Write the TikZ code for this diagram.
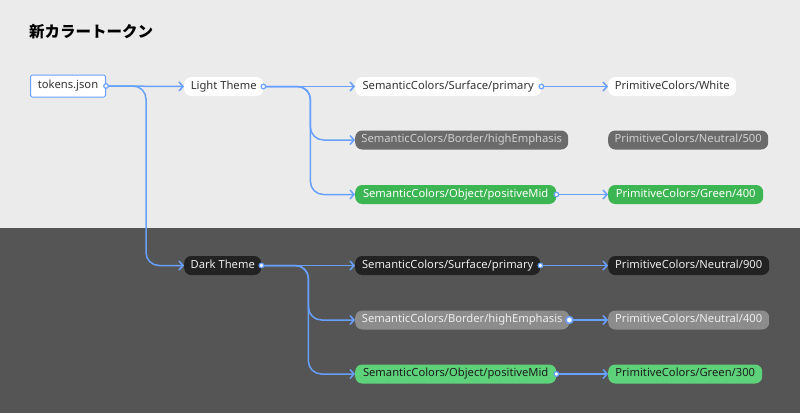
\documentclass[tikz,border=0pt]{standalone}
\usepackage{fontspec}
\setmainfont{Noto Sans}
\newfontfamily\cjk{Noto Sans CJK JP}
\usetikzlibrary{arrows.meta}
\definecolor{lightbg}{HTML}{EBEBEB}
\definecolor{darkbg}{HTML}{555555}
\definecolor{linkc}{HTML}{68A0FF}
\definecolor{txt}{HTML}{333333}
\definecolor{grayL}{HTML}{6B6B6B}
\definecolor{grayLt}{HTML}{CFCFCF}
\definecolor{grayD}{HTML}{8C8C8C}
\definecolor{grayDt}{HTML}{ECECEC}
\definecolor{blackD}{HTML}{222222}
\definecolor{greenL}{HTML}{3CB553}
\definecolor{greenD}{HTML}{5ED27A}
\definecolor{greenDt}{HTML}{1E1E1E}
\tikzset{
  pill/.style={rounded corners=7pt, minimum height=19pt, inner xsep=0pt, inner ysep=0pt,
    anchor=west, font=\fontsize{11.2}{13}\selectfont, text height=8pt, text depth=2.2pt},
  wpill/.style={pill, fill=white, text=txt},
  gLpill/.style={pill, fill=grayL, text=grayLt},
  grLpill/.style={pill, fill=greenL, text=white},
  bDpill/.style={pill, fill=blackD, text=grayDt},
  gDpill/.style={pill, fill=grayD, text=grayDt},
  grDpill/.style={pill, fill=greenD, text=greenDt},
  conn/.style={draw=linkc, line width=1.5pt, rounded corners=13pt,
    -{Straight Barb[length=4pt,width=9pt,line width=1.5pt]}},
  dotc/.style={draw=linkc, fill=white, line width=1.2pt},
}
\begin{document}
\begin{tikzpicture}[x=1pt,y=-1pt]
\useasboundingbox (0,0) rectangle (800,413);
\fill[lightbg] (0,0) rectangle (800,228);
\fill[darkbg] (0,228) rectangle (800,413);

\node[anchor=west, inner sep=0pt, font=\cjk\bfseries\fontsize{15.5}{18}\selectfont, text=black] (title) at (29,32) {新カラートークン};

\node[draw=linkc, line width=1pt, fill=white, text=txt, rounded corners=1.5pt, minimum width=75pt, minimum height=22pt,
  inner xsep=0pt, anchor=west, font=\fontsize{11.2}{13}\selectfont, text height=8pt, text depth=2.2pt] (tok) at (30,86) {tokens.json};

% light
\node[wpill, minimum width=79pt] (lt) at (184,86.5) {Light Theme};
\node[wpill, minimum width=186pt] (ls1) at (355,86.5) {SemanticColors/Surface/primary};
\node[gLpill, minimum width=213pt] (ls2) at (355,140) {SemanticColors/Border/highEmphasis};
\node[grLpill, minimum width=201pt] (ls3) at (355,194.5) {SemanticColors/Object/positiveMid};
\node[wpill, minimum width=128pt] (lp1) at (608,86.5) {PrimitiveColors/White};
\node[gLpill, minimum width=160pt] (lp2) at (608,140) {PrimitiveColors/Neutral/500};
\node[grLpill, minimum width=155pt] (lp3) at (608,194.5) {PrimitiveColors/Green/400};

% dark
\node[bDpill, minimum width=77pt] (dt) at (184,265.5) {Dark Theme};
\node[bDpill, minimum width=185pt] (ds1) at (355,265.5) {SemanticColors/Surface/primary};
\node[gDpill, minimum width=214pt] (ds2) at (355,320) {SemanticColors/Border/highEmphasis};
\node[grDpill, minimum width=201pt] (ds3) at (355,374) {SemanticColors/Object/positiveMid};
\node[bDpill, minimum width=161pt] (dp1) at (608,265.5) {PrimitiveColors/Neutral/900};
\node[gDpill, minimum width=161pt] (dp2) at (608,320) {PrimitiveColors/Neutral/400};
\node[grDpill, minimum width=154pt] (dp3) at (608,374) {PrimitiveColors/Green/300};

% connectors
\draw[conn] (tok.east) -- (lt.west);
\draw[conn] (tok.east) -- ++(40,0) |- (dt.west);
\draw[conn] (lt.east) -- (ls1.west);
\draw[conn] (lt.east) -- ++(47,0) |- (ls2.west);
\draw[conn] (lt.east) -- ++(47,0) |- (ls3.west);
\draw[conn] (ls1.east) -- (lp1.west);
\draw[conn] (ls3.east) -- (lp3.west);
\draw[conn] (dt.east) -- (ds1.west);
\draw[conn] (dt.east) -- ++(47,0) |- (ds2.west);
\draw[conn] (dt.east) -- ++(47,0) |- (ds3.west);
\draw[conn] (ds1.east) -- (dp1.west);
\draw[conn] (ds2.east) -- (dp2.west);
\draw[conn] (ds3.east) -- (dp3.west);

% dots
\draw[dotc] (tok.east) circle (2.3pt);
\draw[dotc] (lt.east) circle (2.3pt);
\draw[dotc] (ls1.east) circle (2.3pt);
\draw[dotc] (ls3.east) circle (2.3pt);
\draw[dotc] (dt.east) circle (2.3pt);
\draw[dotc] (ds1.east) circle (2.3pt);
\draw[dotc, line width=1.6pt] (ds2.east) circle (3.4pt);
\draw[dotc] (ds3.east) circle (2.3pt);
\end{tikzpicture}
\end{document}
